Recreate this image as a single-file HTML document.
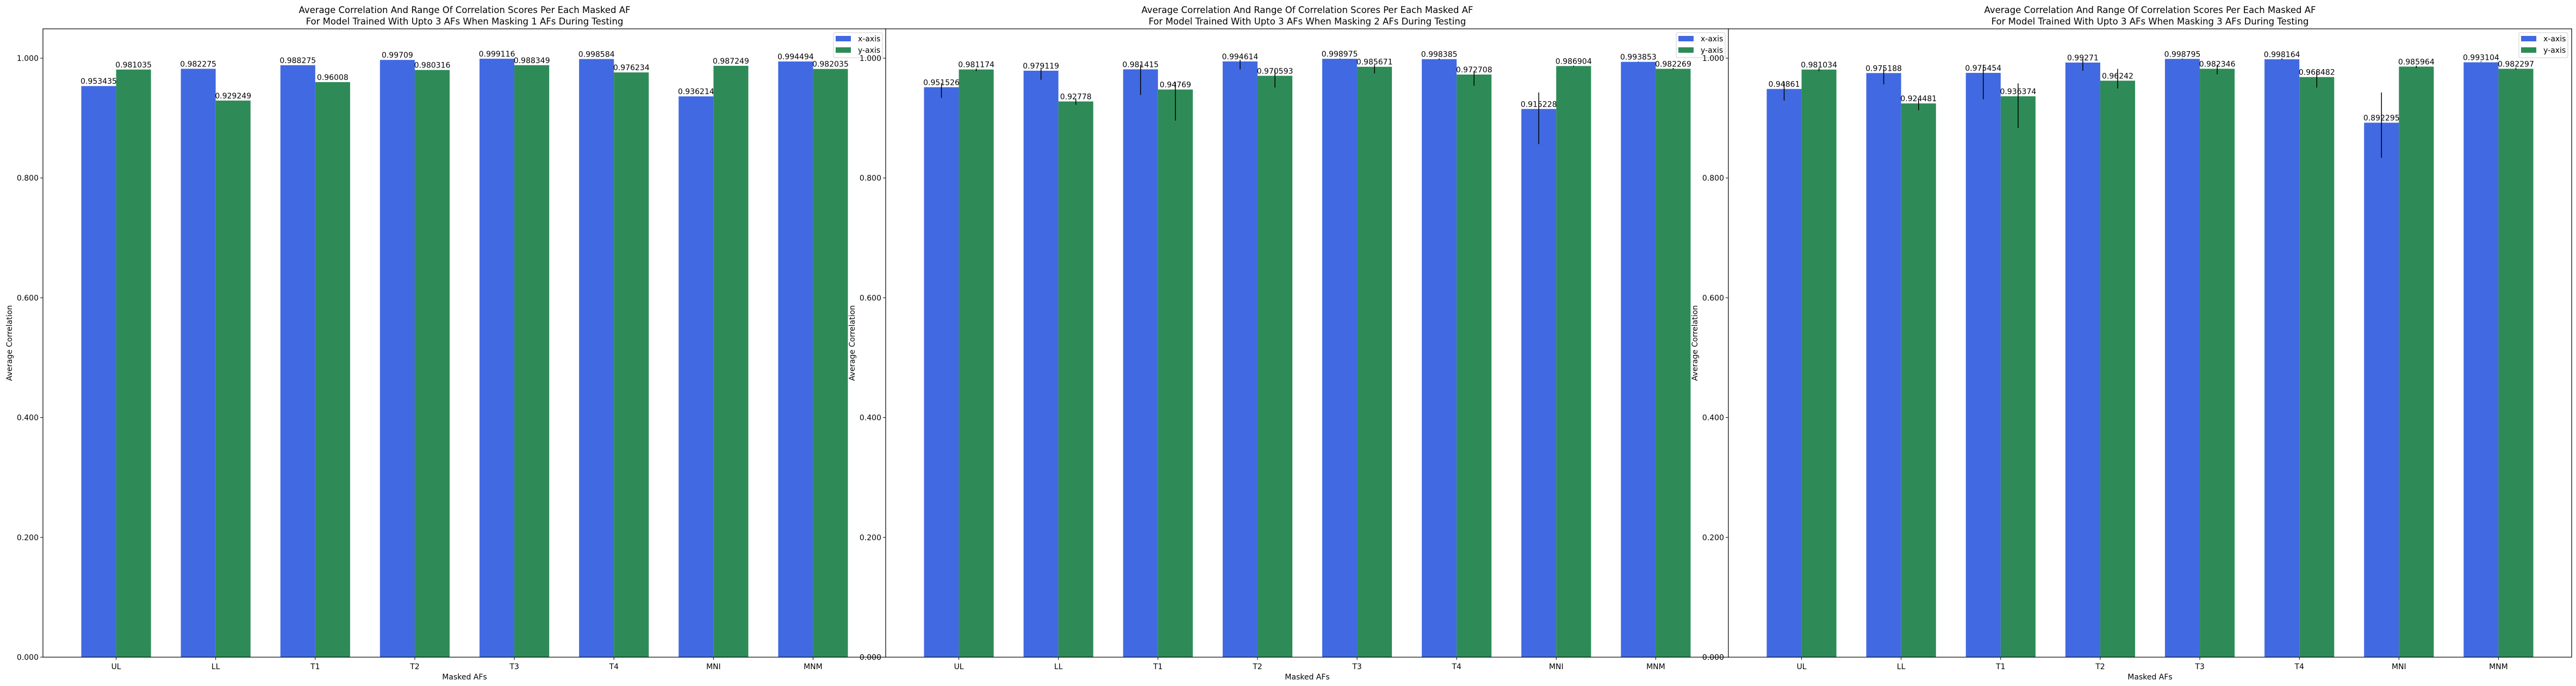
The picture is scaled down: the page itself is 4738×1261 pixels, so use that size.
<!DOCTYPE html>
<html><head><meta charset="utf-8"><style>
html,body{margin:0;padding:0;background:#fff;}
svg{display:block;font-family:"DejaVu Sans","Liberation Sans",sans-serif;}
</style></head><body>
<svg id="chart" width="4738" height="1261" viewBox="0 0 4738 1261" xmlns="http://www.w3.org/2000/svg"></svg>
<script>
const categories = ["UL","LL","T1","T2","T3","T4","MNI","MNM"];
const maskCounts = [1,2,3];
const yTicks = [0,0.2,0.4,0.6,0.8,1.0];
const xVals1 = [0.953435,0.982275,0.988275,0.99709,0.999116,0.998584,0.936214,0.994494];
const yVals1 = [0.981035,0.929249,0.96008,0.980316,0.988349,0.976234,0.987249,0.982035];
const xVals2 = [0.951526,0.979119,0.981415,0.994614,0.998975,0.998385,0.915228,0.993853];
const yVals2 = [0.981174,0.92778,0.94769,0.970593,0.985671,0.972708,0.986904,0.982269];
const xVals3 = [0.94861,0.975188,0.975454,0.99271,0.998795,0.998164,0.892295,0.993104];
const yVals3 = [0.981034,0.924481,0.936374,0.96242,0.982346,0.968482,0.985964,0.982297];
const xLabels1 = ["0.953435","0.982275","0.988275","0.99709","0.999116","0.998584","0.936214","0.994494"];
const yLabels1 = ["0.981035","0.929249","0.96008","0.980316","0.988349","0.976234","0.987249","0.982035"];
const xLabels2 = ["0.951526","0.979119","0.981415","0.994614","0.998975","0.998385","0.915228","0.993853"];
const yLabels2 = ["0.981174","0.92778","0.94769","0.970593","0.985671","0.972708","0.986904","0.982269"];
const xLabels3 = ["0.94861","0.975188","0.975454","0.99271","0.998795","0.998164","0.892295","0.993104"];
const yLabels3 = ["0.981034","0.924481","0.936374","0.96242","0.982346","0.968482","0.985964","0.982297"];
const xErrLo2 = [0.9337,0.9640,0.9385,0.9812,0.9985,0.9973,0.8565,0.9934];
const xErrHi2 = [0.9585,0.9828,0.9891,0.9973,0.9994,0.9994,0.9428,0.9943];
const yErrLo2 = [0.9785,0.9222,0.8959,0.9510,0.9746,0.9540,0.9857,0.9812];
const yErrHi2 = [0.9828,0.9328,0.9600,0.9809,0.9891,0.9782,0.9876,0.9837];
const xErrLo3 = [0.9292,0.9564,0.9313,0.9791,0.9982,0.9973,0.8338,0.9937];
const xErrHi3 = [0.9600,0.9828,0.9891,0.9982,0.9994,0.9997,0.9428,0.9949];
const yErrLo3 = [0.9785,0.9131,0.8837,0.9494,0.9730,0.9510,0.9837,0.9812];
const yErrHi3 = [0.9837,0.9313,0.9579,0.9821,0.9891,0.9791,0.9876,0.9843];

const panels = [
  {xv:xVals1,yv:yVals1,xl:xLabels1,yl:yLabels1,err:null},
  {xv:xVals2,yv:yVals2,xl:xLabels2,yl:yLabels2,err:[xErrLo2,xErrHi2,yErrLo2,yErrHi2]},
  {xv:xVals3,yv:yVals3,xl:xLabels3,yl:yLabels3,err:[xErrLo3,xErrHi3,yErrLo3,yErrHi3]}
];
const NS="http://www.w3.org/2000/svg";
const svg=document.getElementById('chart');
function mk(tag,attrs,parent,text){const e=document.createElementNS(NS,tag);for(const k in attrs)e.setAttribute(k,attrs[k]);if(text!==undefined)e.textContent=text;(parent||svg).appendChild(e);return e;}
const lefts=[79,1629,3179], W=1551, TOP=53, BOT=1208;
const yMax=1.049, xMin=-0.735, xMax=7.735, bw=0.35;
const BLUE="#4169e1", GREEN="#2e8b57";
panels.forEach((p,pi)=>{
  const L=lefts[pi];
  const X=v=>L+(v-xMin)/(xMax-xMin)*W;
  const Y=v=>BOT-v/yMax*(BOT-TOP);
  const g=mk('g',{});
  
  
  const bg=mk('rect',{x:L,y:TOP,width:W,height:BOT-TOP,fill:'#fff'},g);
  
  
  categories.forEach((c,i)=>{
    [[p.xv,p.xl,-bw/2,BLUE,'x'],[p.yv,p.yl,bw/2,GREEN,'y']].forEach(([vals,labs,off,col,s],si)=>{
      const v=vals[i], x0=X(i+off-bw/2), x1=X(i+off+bw/2);
      const r=mk('rect',{x:x0,y:Y(v),width:x1-x0,height:BOT-Y(v),fill:col},g);
      
      
    });
  });
  categories.forEach((c,i)=>{
    [[p.xv,p.xl,-bw/2,0,'x'],[p.yv,p.yl,bw/2,2,'y']].forEach(([vals,labs,off,ei,s])=>{
      const cx=X(i+off);
      if(p.err){
        const el=mk('line',{x1:cx,x2:cx,y1:Y(p.err[ei][i]),y2:Y(p.err[ei+1][i]),stroke:'#000','stroke-width':1.5},g);
        
        
      }
      const t=mk('text',{x:cx,y:Y(vals[i])-4,'text-anchor':'middle','font-size':14},g,labs[i]);
      
      
    });
  });
  const fr=mk('rect',{x:L,y:TOP,width:W,height:BOT-TOP,fill:'none',stroke:'#000','stroke-width':1.2},g);
  
  
  yTicks.forEach(v=>{
    mk('line',{x1:L-5,x2:L,y1:Y(v),y2:Y(v),stroke:'#000','stroke-width':1},g);
    const t=mk('text',{x:L-8,y:Y(v)+5,'text-anchor':'end','font-size':14},g,v.toFixed(3));
    
    
  });
  categories.forEach((c,i)=>{
    mk('line',{x1:X(i),x2:X(i),y1:BOT,y2:BOT+5,stroke:'#000','stroke-width':1},g);
    const t=mk('text',{x:X(i),y:BOT+22,'text-anchor':'middle','font-size':14},g,c);
    
    
  });
  const xt=mk('text',{x:L+W/2,y:BOT+41,'text-anchor':'middle','font-size':14},g,'Masked AFs');
  
  
  const yt=mk('text',{x:L-57,y:(TOP+BOT)/2,'text-anchor':'middle','font-size':14,transform:`rotate(-90 ${L-57} ${(TOP+BOT)/2})`},g,'Average Correlation');
  
  
  const t1=mk('text',{x:L+W/2,y:24,'text-anchor':'middle','font-size':16.5},g,'Average Correlation And Range Of Correlation Scores Per Each Masked AF');
  
  
  const t2=mk('text',{x:L+W/2,y:45,'text-anchor':'middle','font-size':16.5},g,'For Model Trained With Upto 3 AFs When Masking '+maskCounts[pi]+' AFs During Testing');
  
  
  const lg=mk('g',{},g);
  
  
  const lx=L+W-97;
  mk('rect',{x:lx,y:60,width:90,height:46,rx:3,fill:'#fff','fill-opacity':0.8,stroke:'#ccc'},lg);
  const e1=mk('rect',{x:lx+4,y:66,width:28,height:10,fill:BLUE},lg);
  
  
  const e2=mk('rect',{x:lx+4,y:87,width:28,height:10,fill:GREEN},lg);
  
  
  const l1=mk('text',{x:lx+45,y:76,'font-size':14},lg,'x-axis');
  
  
  const l2=mk('text',{x:lx+45,y:97,'font-size':14},lg,'y-axis');
  
  
});
</script>
</body></html>
